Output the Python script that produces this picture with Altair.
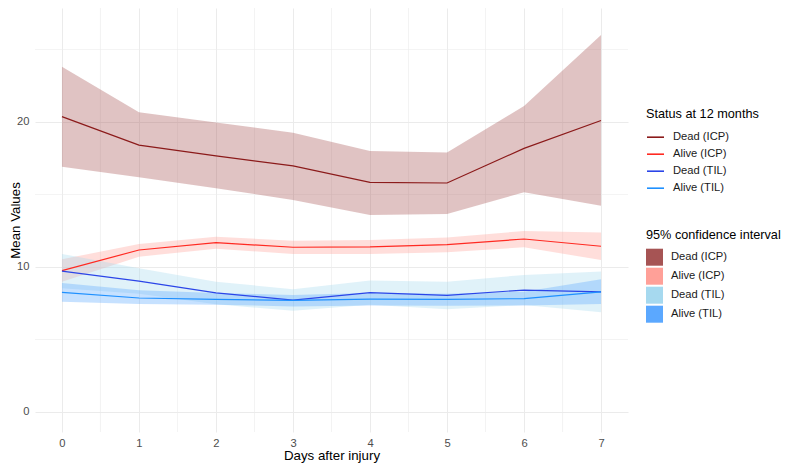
import altair as alt
import pandas as pd

days = [0, 1, 2, 3, 4, 5, 6, 7]
series_names = ["Dead (ICP)", "Alive (ICP)", "Dead (TIL)", "Alive (TIL)"]

dead_icp_mean = [20.37, 18.40, 17.66, 16.97, 15.84, 15.79, 18.18, 20.10]
dead_icp_lo = [16.92, 16.18, 15.43, 14.62, 13.59, 13.66, 15.15, 14.23]
dead_icp_hi = [23.80, 20.67, 19.97, 19.26, 18.00, 17.89, 21.10, 26.00]

alive_icp_mean = [9.75, 11.17, 11.68, 11.36, 11.38, 11.54, 11.93, 11.43]
alive_icp_lo = [8.99, 10.71, 11.26, 10.90, 10.90, 11.01, 11.36, 10.48]
alive_icp_hi = [10.53, 11.59, 12.09, 11.81, 11.86, 12.04, 12.48, 12.37]

dead_til_mean = [9.72, 9.03, 8.21, 7.72, 8.23, 8.04, 8.41, 8.28]
dead_til_lo = [8.54, 8.15, 7.43, 6.98, 7.40, 7.09, 7.37, 6.88]
dead_til_hi = [10.90, 9.91, 8.99, 8.46, 9.06, 8.99, 9.45, 9.68]

alive_til_mean = [8.25, 7.86, 7.77, 7.70, 7.79, 7.77, 7.82, 8.28]
alive_til_lo = [7.60, 7.45, 7.40, 7.28, 7.35, 7.33, 7.35, 7.45]
alive_til_hi = [8.90, 8.40, 8.20, 8.07, 8.20, 8.15, 8.30, 9.15]

line_colors = ["#8B1A1A", "#FF2A22", "#2B45E8", "#1E90FF"]
fill_colors = ["#A65454", "#FFA098", "#A6D9EF", "#5BA8FF"]

y_ticks = [0, 10, 20]
minor_x = [0.5, 1.5, 2.5, 3.5, 4.5, 5.5, 6.5]
minor_y = [5, 15, 25]

means = [dead_icp_mean, alive_icp_mean, dead_til_mean, alive_til_mean]
los = [dead_icp_lo, alive_icp_lo, dead_til_lo, alive_til_lo]
his = [dead_icp_hi, alive_icp_hi, dead_til_hi, alive_til_hi]

rows = []
for name, m, lo, hi in zip(series_names, means, los, his):
    for d, a, b, c in zip(days, m, lo, hi):
        rows.append({"day": d, "series": name, "mean": a, "lo": b, "hi": c})
df = pd.DataFrame(rows)

FONT = "Liberation Sans"
GRID = "#EBEBEB"
TITLE_SIZE = 13.3
LEGEND_TITLE_SIZE = 12.7
LABEL_SIZE = 11.2

xs = alt.Scale(domain=[-0.35, 7.35], nice=False, zero=False)
ys = alt.Scale(domain=[-1.38, 27.86], nice=False, zero=False)

xaxis = alt.Axis(values=days, format="d", title="Days after injury", grid=True,
                 gridColor=GRID, gridWidth=1.07, ticks=False, tickSize=0, domain=False,
                 labelFont=FONT, labelFontSize=LABEL_SIZE, labelColor="#4D4D4D",
                 labelPadding=5,
                 titleFont=FONT, titleFontSize=TITLE_SIZE, titleFontWeight="normal",
                 titleColor="#000000", titlePadding=0)
yaxis = alt.Axis(values=y_ticks, format="d", title="Mean Values", grid=True,
                 gridColor=GRID, gridWidth=1.07, ticks=False, tickSize=0, domain=False,
                 labelFont=FONT, labelFontSize=LABEL_SIZE, labelColor="#4D4D4D",
                 labelPadding=6,
                 titleFont=FONT, titleFontSize=TITLE_SIZE, titleFontWeight="normal",
                 titleColor="#000000", titleX=-16, titleBaseline="alphabetic")

minor_x_rules = alt.Chart(pd.DataFrame({"x": minor_x})).mark_rule(
    color=GRID, strokeWidth=0.6).encode(x=alt.X("x:Q", scale=xs, axis=xaxis))
minor_y_rules = alt.Chart(pd.DataFrame({"y": minor_y})).mark_rule(
    color=GRID, strokeWidth=0.6).encode(y=alt.Y("y:Q", scale=ys, axis=yaxis))

legend_common = dict(orient="none", legendX=611, padding=0, symbolSize=289,
                     rowPadding=2, titlePadding=7, labelOffset=8,
                     titleFont=FONT, titleFontSize=LEGEND_TITLE_SIZE,
                     titleFontWeight="normal", titleColor="#000000",
                     titleLimit=300, labelLimit=200,
                     labelFont=FONT, labelFontSize=LABEL_SIZE, labelColor="#1A1A1A")

areas = alt.Chart(df).mark_area(fillOpacity=0.35, strokeWidth=0).encode(
    x=alt.X("day:Q", scale=xs, axis=xaxis),
    y=alt.Y("lo:Q", scale=ys, axis=yaxis),
    y2="hi:Q",
    fill=alt.Fill("series:N",
                  scale=alt.Scale(domain=series_names, range=fill_colors),
                  legend=alt.Legend(title="95% confidence interval", legendY=221,
                                    symbolType="square", symbolStrokeWidth=0,
                                    symbolOpacity=1, **legend_common)),
)

lines = alt.Chart(df).mark_line(strokeWidth=1.2).encode(
    x=alt.X("day:Q", scale=xs, axis=xaxis),
    y=alt.Y("mean:Q", scale=ys, axis=yaxis),
    stroke=alt.Stroke("series:N",
                      scale=alt.Scale(domain=series_names, range=line_colors),
                      legend=alt.Legend(title="Status at 12 months", legendY=100,
                                        symbolType="stroke", symbolStrokeWidth=1.6,
                                        **legend_common)),
    detail="series:N",
)

chart = alt.layer(minor_x_rules, minor_y_rules, areas, lines).properties(
    width=593, height=424,
    padding={"left": 27, "top": 0, "right": 154, "bottom": 33},
    autosize=alt.AutoSizeParams(type="none"),
).configure_view(stroke=None).resolve_scale(fill="independent", stroke="independent")

chart.save("out.html", embed_options={"renderer": "svg", "actions": False})
